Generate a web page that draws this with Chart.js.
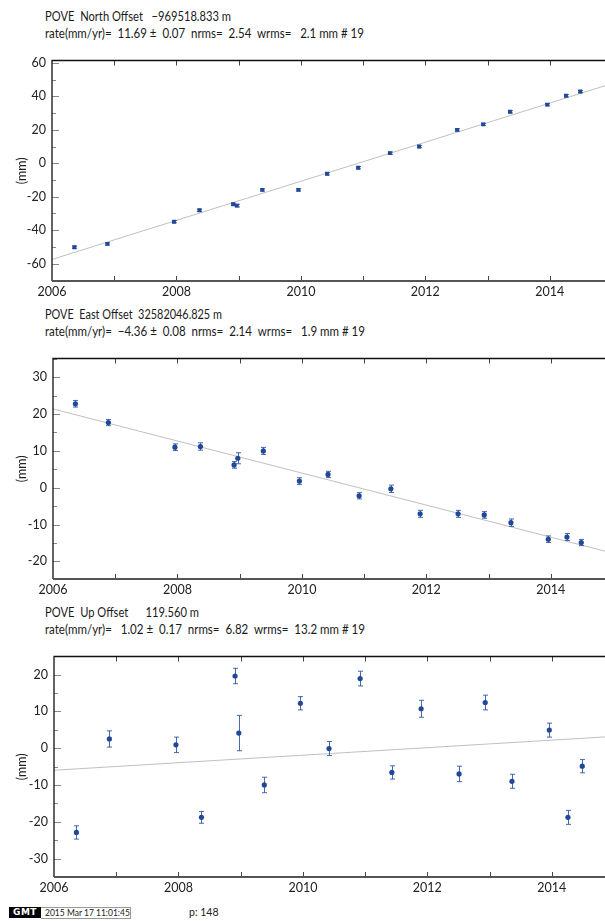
<!DOCTYPE html>
<html>
<head>
<meta charset="utf-8">
<script src="https://cdn.jsdelivr.net/npm/chart.js@4.4.1/dist/chart.umd.min.js"></script>
<style>
  html, body { margin: 0; padding: 0; background: #fff; }
  #page { position: relative; width: 605px; height: 921px; overflow: hidden; }
  canvas { position: absolute; left: 0; }
  .t { position: absolute; left: 45px; font-family: Lato, sans-serif; font-size: 12.5px; line-height: 12.5px;
       color: #1a1a1a; white-space: pre; transform-origin: 0 50%; }
  #gmt { position: absolute; left: 9px; top: 907px; width: 32px; height: 11px; background: #000; color: #fff;
         font: bold 9px/11px "DejaVu Sans", sans-serif; text-align: center; letter-spacing: 0.5px; }
  #stamp { position: absolute; left: 41px; top: 907px; width: 85px; height: 10px; border: 1px solid #999; border-left: none;
           font: 8.5px/10px Lato, sans-serif; color: #222; padding-left: 4px; }
  #pnum { position: absolute; left: 189px; top: 906px; font: 10.5px/12px Lato, sans-serif; color: #222; }
</style>
</head>
<body>
<div id="page">
  <canvas id="north" width="620" height="258" style="top:47px"></canvas>
  <canvas id="east" width="620" height="258" style="top:345px"></canvas>
  <canvas id="up" width="620" height="258" style="top:643px"></canvas>
  <div id="gmt">GMT</div>
  <div id="stamp">2015 Mar 17 11:01:45</div>
  <div id="pnum">p: 148</div>
</div>
<script>
// epochs (decimal year) shared by the three components
const years = [2006.36, 2006.89, 2007.96, 2008.37, 2008.91, 2008.97, 2009.38, 2009.96, 2010.42,
               2010.92, 2011.43, 2011.90, 2012.51, 2012.93, 2013.36, 2013.96, 2014.26, 2014.49];

// North (mm)
const northVals = [-50.2, -48.2, -34.9, -28.1, -24.5, -25.3, -15.9, -15.9, -6.3,
                   -2.6, 6.1, 10.0, 20.0, 23.3, 30.8, 35.1, 40.4, 42.9];
const northErr  = [0.7, 0.7, 0.7, 0.7, 0.7, 0.8, 0.7, 0.7, 0.7,
                   0.7, 0.7, 0.7, 0.7, 0.7, 0.7, 0.7, 0.7, 0.7];
// East (mm)
const eastVals = [22.8, 17.7, 11.0, 11.2, 6.2, 8.0, 10.0, 1.8, 3.6,
                  -2.2, -0.3, -7.1, -7.1, -7.4, -9.5, -14.0, -13.4, -14.9];
const eastErr  = [0.9, 0.85, 0.9, 1.0, 0.9, 1.5, 0.95, 0.9, 0.85,
                  0.85, 1.0, 0.95, 0.95, 0.9, 1.0, 0.9, 0.95, 0.85];
// Up (mm)
const upVals = [-22.9, 2.5, 0.9, -18.8, 19.6, 4.1, -10.0, 12.2, -0.1,
                18.9, -6.6, 10.7, -7.0, 12.4, -9.0, 4.9, -18.8, -4.9];
const upErr  = [1.8, 2.2, 2.1, 1.6, 2.1, 4.8, 2.1, 1.8, 1.9,
                2.0, 1.8, 2.3, 2.1, 2.0, 1.9, 1.9, 1.9, 1.8];

// fitted trend lines, value at the two ends of the time axis
const fitYears = [2006, 2015];
const northFit = [-57.5, 47.7];
const eastFit  = [21.4, -17.8];
const upFit    = [-6.0, 3.2];

// tick labels
const xTicks = [2006, 2008, 2010, 2012, 2014];
const northTicks = [-60, -40, -20, 0, 20, 40, 60];
const eastTicks  = [-20, -10, 0, 10, 20, 30];
const upTicks    = [-30, -20, -10, 0, 10, 20];

// header lines: text, baseline y, right end x
const headers = [
  ['POVE  North Offset   \u2212969518.833 m', 22, 231],
  ['rate(mm/yr)=  11.69 \u00b1  0.07  nrms=  2.54  wrms=   2.1 mm # 19', 39, 364],
  ['POVE  East Offset  32582046.825 m', 320, 222],
  ['rate(mm/yr)=  \u22124.36 \u00b1  0.08  nrms=  2.14  wrms=   1.9 mm # 19', 337, 365],
  ['POVE  Up Offset      119.560 m', 618, 199],
  ['rate(mm/yr)=   1.02 \u00b1  0.17  nrms=  6.82  wrms=  13.2 mm # 19', 635, 365]
];

const page = document.getElementById('page');
headers.forEach(h => {
  const s = document.createElement('div');
  s.className = 't';
  s.textContent = h[0];
  s.style.top = (h[1] - 11) + 'px';
  page.appendChild(s);
  const w = s.getBoundingClientRect().width;
  s.style.transform = 'scaleX(' + ((h[2] - 45) / w).toFixed(3) + ')';
});

const BLUE = 'rgb(33, 72, 152)';
const BAR = 'rgba(48, 88, 170, 0.9)';
const FONT = { family: 'Lato, sans-serif', size: 12.5 };

// border, inward ticks and error bars
const framePlugin = {
  id: 'frame',
  beforeDatasetDraw(chart, args, opts) {
    if (args.index !== 0) return;
    const ctx = chart.ctx, xs = chart.scales.x, ys = chart.scales.y;
    ctx.save();
    ctx.strokeStyle = BAR;
    ctx.lineWidth = 1;
    opts.vals.forEach((v, i) => {
      const x = Math.round(xs.getPixelForValue(years[i])) + 0.5;
      const y1 = ys.getPixelForValue(v - opts.err[i]);
      const y2 = ys.getPixelForValue(v + opts.err[i]);
      ctx.beginPath();
      ctx.moveTo(x, y1); ctx.lineTo(x, y2);
      ctx.moveTo(x - 2.5, y1); ctx.lineTo(x + 2.5, y1);
      ctx.moveTo(x - 2.5, y2); ctx.lineTo(x + 2.5, y2);
      ctx.stroke();
    });
    ctx.restore();
  },
  afterDraw(chart, args, opts) {
    const ctx = chart.ctx, a = chart.chartArea, xs = chart.scales.x, ys = chart.scales.y;
    ctx.save();
    // x ticks every year, top and bottom
    ctx.strokeStyle = '#444';
    ctx.lineWidth = 1;
    ctx.beginPath();
    for (let yr = 2007; yr <= 2015; yr++) {
      const x = Math.round(xs.getPixelForValue(yr)) + 0.5;
      ctx.moveTo(x, a.top); ctx.lineTo(x, a.top + 5);
      ctx.moveTo(x, a.bottom); ctx.lineTo(x, a.bottom - 5);
    }
    ctx.stroke();
    // y ticks
    ctx.strokeStyle = '#888';
    ctx.beginPath();
    const start = Math.ceil(ys.min / opts.minor) * opts.minor;
    for (let v = start; v <= ys.max; v += opts.minor) {
      const y = Math.round(ys.getPixelForValue(v)) + 0.5;
      const len = opts.ticks.includes(v) ? 7 : 4;
      ctx.moveTo(a.left, y); ctx.lineTo(a.left + len, y);
    }
    ctx.stroke();
    // frame
    ctx.strokeStyle = '#111';
    ctx.lineWidth = 1.3;
    ctx.beginPath();
    ctx.moveTo(a.right, a.top); ctx.lineTo(a.left, a.top); ctx.lineTo(a.left, a.bottom);
    ctx.stroke();
    ctx.strokeStyle = '#555';
    ctx.lineWidth = 1.8;
    ctx.beginPath();
    ctx.moveTo(a.left, a.bottom); ctx.lineTo(a.right, a.bottom);
    ctx.stroke();
    ctx.restore();
  }
};

function makePanel(id, vals, err, fit, yMin, yMax, yTicks, minor, left, pointStyle) {
  const right = 620 - (left + 560);
  return new Chart(document.getElementById(id), {
    type: 'scatter',
    data: {
      datasets: [
        {
          data: years.map((t, i) => ({ x: t, y: vals[i] })),
          backgroundColor: BLUE,
          borderColor: BLUE,
          borderWidth: 0,
          pointStyle: pointStyle,
          pointRadius: pointStyle === 'rect' ? 2.8 : 2.6,
          order: 0
        },
        {
          type: 'line',
          data: fitYears.map((t, i) => ({ x: t, y: fit[i] })),
          borderColor: 'rgb(192, 192, 192)',
          borderWidth: 1,
          pointRadius: 0,
          fill: false,
          order: 1
        }
      ]
    },
    options: {
      responsive: false,
      animation: false,
      events: [],
      layout: { padding: { top: 10, right: right, left: 0, bottom: 0 } },
      plugins: {
        legend: { display: false },
        tooltip: { enabled: false },
        frame: { vals: vals, err: err, ticks: yTicks, minor: minor }
      },
      scales: {
        x: {
          type: 'linear',
          min: 2006,
          max: 2015,
          afterBuildTicks: s => { s.ticks = xTicks.map(v => ({ value: v })); },
          afterFit: s => { s.height = 24; },
          ticks: { autoSkip: false, maxRotation: 0, padding: 3, color: '#222', font: FONT,
                   callback: v => String(v) },
          grid: { display: false, drawTicks: false },
          border: { display: false }
        },
        y: {
          min: yMin,
          max: yMax,
          afterBuildTicks: s => { s.ticks = yTicks.map(v => ({ value: v })); },
          afterFit: s => { s.width = left; },
          ticks: { autoSkip: false, padding: 6, color: '#222', font: FONT,
                   callback: v => String(v) },
          grid: { display: false, drawTicks: false },
          border: { display: false },
          title: { display: true, text: '(mm)', color: '#222', font: FONT, padding: { top: 14, bottom: 0 } }
        }
      }
    },
    plugins: [framePlugin]
  });
}

makePanel('north', northVals, northErr, northFit, -70.4, 61.5, northTicks, 10, 52, 'rect');
makePanel('east', eastVals, eastErr, eastFit, -24.8, 35.1, eastTicks, 5, 53, 'circle');
makePanel('up', upVals, upErr, upFit, -35.0, 24.9, upTicks, 5, 54, 'circle');
</script>
</body>
</html>
